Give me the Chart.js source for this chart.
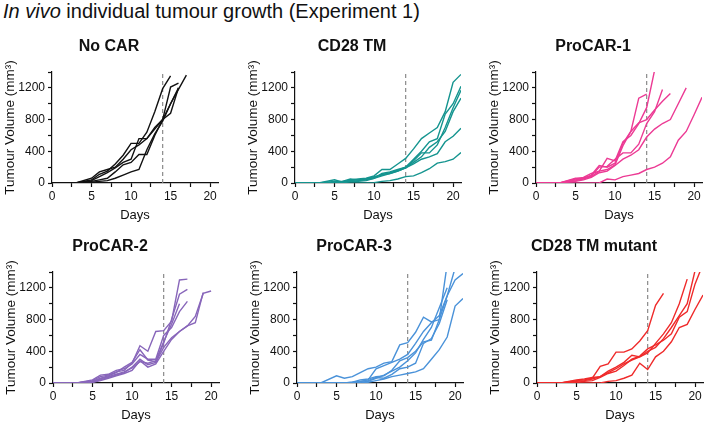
<!DOCTYPE html>
<html>
<head>
<meta charset="utf-8">
<script src="https://cdn.jsdelivr.net/npm/chart.js@4.4.1/dist/chart.umd.min.js"></script>
<style>
  html, body { margin: 0; padding: 0; background: #fff; }
  body { width: 706px; height: 426px; position: relative; overflow: hidden; font-family: 'Liberation Sans', Arial, sans-serif; }
  #heading { position: absolute; left: 3px; top: 0px; font-size: 20px; line-height: 23px; color: #111; white-space: nowrap; }
  canvas { position: absolute; }
</style>
</head>
<body>
<div id="heading"><i>In vivo</i> individual tumour growth (Experiment 1)</div>
<canvas id="panel0" width="222" height="200" style="left:0px;top:27px"></canvas>
<canvas id="panel1" width="222" height="200" style="left:243px;top:27px"></canvas>
<canvas id="panel2" width="222" height="200" style="left:484px;top:27px"></canvas>
<canvas id="panel3" width="222" height="200" style="left:1px;top:227px"></canvas>
<canvas id="panel4" width="222" height="200" style="left:245px;top:227px"></canvas>
<canvas id="panel5" width="222" height="200" style="left:485px;top:227px"></canvas>
<script>
// measurement days, shared by every mouse (values below follow this order)
const days = [0, 3, 5, 6, 7, 8, 9, 10, 11, 12, 13, 14, 15, 16, 17, 18, 19, 20, 21];
const xTickLabels = [0, 5, 10, 15, 20];
const yTickLabels = [0, 400, 800, 1200];
const treatmentDay = 14;

const panelTitles = ['No CAR', 'CD28 TM', 'ProCAR-1', 'ProCAR-2', 'ProCAR-3', 'CD28 TM mutant'];
const panelColors = ['#111111', '#14948f', '#ec3a94', '#8866ba', '#4a92d9', '#ef2a2a'];

// tumour volume (mm3) per mouse
const noCar = [
  [0, 0, 40, 110, 150, 240, 350, 500, 500, 640, 900, 1190, 1350],
  [0, 0, 30, 80, 130, 190, 260, 300, 560, 560, 680, 800, 880, 1200],
  [0, 0, 20, 40, 60, 140, 230, 260, 360, 360, 600, 800, 1210, 1260],
  [0, 0, 10, 20, 30, 60, 100, 140, 170, 420, 620, 780, 1000, 1180, 1360],
  [0, 0, 60, 140, 170, 200, 300, 420, 480, 560, 700, 800, 1000, 1200],
];
const cd28Tm = [
  [0, 0, 40, 10, 40, 50, 60, 90, 170, 170, 240, 310, 430, 560, 630, 700, 900, 1270, 1370],
  [0, 0, 10, 20, 50, 40, 40, 60, 120, 140, 170, 200, 300, 400, 520, 560, 870, 1000, 1220],
  [0, 0, 20, 20, 30, 40, 50, 80, 100, 130, 160, 200, 280, 380, 380, 480, 700, 950, 1170],
  [0, 0, 0, 10, 20, 30, 40, 70, 110, 120, 150, 190, 260, 330, 450, 520, 650, 900, 1070],
  [0, 0, 0, 0, 20, 20, 30, 60, 90, 120, 150, 190, 240, 300, 330, 370, 520, 590, 690],
  [0, 0, 0, 0, 0, 0, 0, 5, 20, 30, 50, 80, 90, 130, 180, 250, 270, 300, 385],
];
const proCar1 = [
  [0, 0, 60, 60, 100, 220, 200, 250, 500, 650, 1070, 1120],
  [0, 0, 50, 70, 120, 150, 310, 280, 520, 600, 750, 950, 1420],
  [0, 0, 40, 60, 90, 200, 210, 300, 380, 380, 490, 750, 900, 1180],
  [0, 0, 30, 50, 80, 150, 170, 230, 470, 650, 760, 800, 920, 1030, 1130],
  [0, 0, 20, 40, 70, 130, 150, 220, 300, 350, 420, 580, 680, 750, 800, 1000, 1200],
  [0, 0, 0, 0, 0, 0, 50, 40, 80, 100, 120, 170, 200, 250, 330, 540, 650, 860, 1080],
];
const proCar2 = [
  [0, 0, 30, 80, 100, 140, 160, 250, 470, 400, 650, 660, 780, 1300, 1310],
  [0, 0, 20, 60, 90, 130, 200, 260, 420, 290, 270, 500, 800, 1120, 1180],
  [0, 0, 40, 100, 110, 160, 180, 240, 360, 300, 300, 600, 700, 900, 1030],
  [0, 0, 10, 40, 70, 100, 130, 200, 300, 230, 260, 450, 570, 650, 720, 840, 1130, 1160],
  [0, 0, 10, 30, 60, 90, 120, 160, 280, 200, 240, 400, 550, 650, 720, 760, 1140],
  [0, 0, 20, 50, 80, 110, 140, 190, 270, 250, 280, 520, 740, 1000],
];
const proCar3 = [
  [0, 0, 90, 60, 80, 130, 180, 200, 250, 270, 480, 510, 640, 830, 770, 800, 1500],
  [0, 0, 0, 0, 0, 20, 40, 180, 220, 260, 300, 360, 500, 650, 760, 850, 1100, 1450],
  [0, 0, 0, 0, 10, 40, 50, 80, 90, 160, 280, 320, 400, 520, 540, 800, 1100, 1300, 1380],
  [0, 0, 0, 0, 0, 0, 10, 30, 50, 80, 100, 120, 140, 180, 300, 420, 580, 970, 1065],
  [0, 0, 0, 0, 10, 20, 30, 70, 60, 110, 180, 200, 250, 500, 560, 750, 1050],
  [0, 0, 0, 0, 0, 10, 20, 60, 100, 150, 200, 280, 380, 550, 700, 950, 1200],
];
const cd28TmMutant = [
  [0, 0, 30, 40, 60, 210, 240, 390, 390, 430, 530, 660, 980, 1130],
  [0, 0, 40, 50, 70, 80, 130, 180, 240, 290, 330, 380, 500, 620, 760, 1000, 1310],
  [0, 0, 20, 30, 50, 80, 150, 200, 260, 350, 330, 400, 450, 560, 700, 850, 1000, 1420],
  [0, 0, 10, 20, 30, 70, 120, 150, 220, 300, 340, 430, 480, 540, 620, 830, 900, 1250, 1500],
  [0, 0, 0, 0, 0, 0, 20, 30, 60, 100, 250, 170, 330, 400, 520, 700, 740, 930, 1110],
];

const panelData = [noCar, cd28Tm, proCar1, proCar2, proCar3, cd28TmMutant];

const fontFamily = "'Liberation Sans', Arial, sans-serif";
const ink = '#111';

const chartInit = (element, title, color, mice) => {
  const datasets = mice.map((values, index) => ({
    label: `${title} ${index + 1}`,
    data: values.map((v, i) => ({ x: days[i], y: v })),
    borderColor: color,
    backgroundColor: color,
    borderWidth: 1.4,
    pointRadius: 0,
    tension: 0,
    fill: false,
  }));

  // dashed marker at treatment day
  datasets.push({
    label: 'treatment',
    data: [{ x: treatmentDay, y: 0 }, { x: treatmentDay, y: 1400 }],
    borderColor: '#8a8a8a',
    borderDash: [4, 3],
    borderWidth: 1.2,
    pointRadius: 0,
    fill: false,
  });

  return new Chart(element, {
    type: 'line',
    data: { datasets },
    options: {
      responsive: false,
      animation: false,
      layout: { padding: { left: 0, right: 4, top: 0, bottom: 0 } },
      plugins: {
        legend: { display: false },
        tooltip: { enabled: false },
        title: {
          display: true,
          text: title,
          color: ink,
          font: { family: fontFamily, size: 16, weight: 'bold' },
          padding: { top: 10, bottom: 15.8 },
        },
      },
      scales: {
        x: {
          type: 'linear',
          min: 0,
          max: 21,
          afterFit: (scale) => { scale.height = 44; },
          border: { color: ink, width: 1.2 },
          grid: { drawOnChartArea: false, tickLength: 4, tickColor: ink, tickWidth: 1.2 },
          ticks: {
            stepSize: 2.5,
            includeBounds: false,
            autoSkip: false,
            maxRotation: 0,
            padding: 2,
            color: ink,
            font: { family: fontFamily, size: 12 },
            callback: (v) => (xTickLabels.includes(v) ? String(v) : ''),
          },
          title: {
            display: true,
            text: 'Days',
            color: ink,
            font: { family: fontFamily, size: 13 },
            padding: { top: 0, bottom: 4 },
          },
        },
        y: {
          type: 'linear',
          min: 0,
          max: 1400,
          afterFit: (scale) => { scale.width = 52; },
          border: { color: ink, width: 1.2 },
          grid: { drawOnChartArea: false, tickLength: 4, tickColor: ink, tickWidth: 1.2 },
          ticks: {
            stepSize: 200,
            autoSkip: false,
            padding: 3,
            color: ink,
            font: { family: fontFamily, size: 12 },
            callback: (v) => (yTickLabels.includes(v) ? String(v) : ''),
          },
          title: {
            display: true,
            text: 'Tumour Volume (mm³)',
            color: ink,
            font: { family: fontFamily, size: 13.5 },
            padding: { top: 2, bottom: 0 },
          },
        },
      },
    },
  });
};

document.addEventListener('DOMContentLoaded', () => {
  panelData.forEach((mice, index) => {
    const element = document.getElementById(`panel${index}`);
    if (element) {
      chartInit(element, panelTitles[index], panelColors[index], mice);
    }
  });
});
</script>
</body>
</html>
